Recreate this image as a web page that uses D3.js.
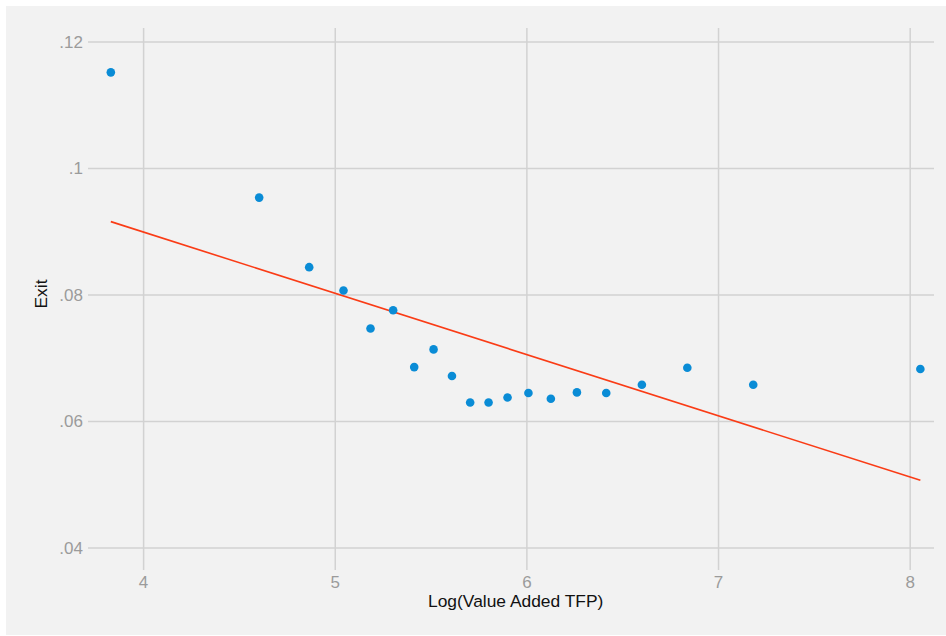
<!DOCTYPE html>
<html>
<head>
<meta charset="utf-8">
<script src="https://cdn.jsdelivr.net/npm/d3@7"></script>
<style>
  body { margin: 0; background: #fff; }
  text { font-family: "Liberation Sans", Arial, Helvetica, sans-serif; }
</style>
</head>
<body>
<div id="chart"></div>
<script>
// binned scatter: log TFP vs exit rate
const tfp = [3.829, 4.603, 4.864, 5.043, 5.184, 5.302, 5.412, 5.513, 5.609, 5.704,
             5.800, 5.899, 6.008, 6.125, 6.261, 6.414, 6.600, 6.837, 7.181, 8.053];
const exitRate = [0.1152, 0.0954, 0.0844, 0.0807, 0.0747, 0.0776, 0.0686, 0.0714, 0.0672, 0.0630,
                  0.0630, 0.0638, 0.0645, 0.0636, 0.0646, 0.0645, 0.0658, 0.0685, 0.0658, 0.0683];
// fitted line end points
const fitX = [3.829, 8.053];
const fitY = [0.0916, 0.0507];

const xTicks = [4, 5, 6, 7, 8];
const yTicks = [0.04, 0.06, 0.08, 0.10, 0.12];
const yTickLabels = ['.04', '.06', '.08', '.1', '.12'];

const width = 946, height = 636;
const plot = { left: 88, right: 934, top: 28, bottom: 570 };

const svg = d3.select('#chart').append('svg')
  .attr('width', width)
  .attr('height', height);

// background
svg.append('rect')
  .attr('x', 6).attr('y', 6)
  .attr('width', width - 6).attr('height', height - 7)
  .attr('fill', '#f2f2f2');

const x = d3.scaleLinear().domain([4, 8]).range([143.6, 910.2]);
const y = d3.scaleLinear().domain([0.04, 0.12]).range([548, 42]);

// gridlines (they run past the outer ticks like tick marks)
svg.append('g').selectAll('line')
  .data(yTicks)
  .enter().append('line')
  .attr('x1', plot.left).attr('x2', plot.right)
  .attr('y1', d => y(d)).attr('y2', d => y(d))
  .style('stroke', '#d2d2d2')
  .style('stroke-width', 1.5);

svg.append('g').selectAll('line')
  .data(xTicks)
  .enter().append('line')
  .attr('x1', d => x(d)).attr('x2', d => x(d))
  .attr('y1', plot.top).attr('y2', plot.bottom)
  .style('stroke', '#d2d2d2')
  .style('stroke-width', 1.5);

// tick labels
svg.append('g').selectAll('text')
  .data(yTicks)
  .enter().append('text')
  .attr('x', 83)
  .attr('y', d => y(d))
  .attr('dy', '0.35em')
  .style('text-anchor', 'end')
  .style('font-size', '17px')
  .style('fill', '#9b9b9b')
  .text((d, i) => yTickLabels[i]);

svg.append('g').selectAll('text')
  .data(xTicks)
  .enter().append('text')
  .attr('x', d => x(d))
  .attr('y', 588)
  .style('text-anchor', 'middle')
  .style('font-size', '17px')
  .style('fill', '#9b9b9b')
  .text(d => d);

// fitted line
const line = d3.line()
  .x(d => x(d[0]))
  .y(d => y(d[1]));

svg.append('path')
  .datum(fitX.map((v, i) => [v, fitY[i]]))
  .attr('d', line)
  .style('fill', 'none')
  .style('stroke', '#fa3c16')
  .style('stroke-width', 1.6);

// points
svg.append('g').selectAll('circle')
  .data(tfp.map((v, i) => [v, exitRate[i]]))
  .enter().append('circle')
  .attr('cx', d => x(d[0]))
  .attr('cy', d => y(d[1]))
  .attr('r', 4.3)
  .style('fill', '#0a8cd6');

// axis titles
svg.append('text')
  .attr('x', 515.7)
  .attr('y', 607)
  .style('text-anchor', 'middle')
  .style('font-size', '17.4px')
  .style('fill', '#111')
  .text('Log(Value Added TFP)');

svg.append('text')
  .attr('transform', 'translate(46.5,294) rotate(-90)')
  .style('text-anchor', 'middle')
  .style('font-size', '17.4px')
  .style('fill', '#111')
  .text('Exit');
</script>
</body>
</html>
